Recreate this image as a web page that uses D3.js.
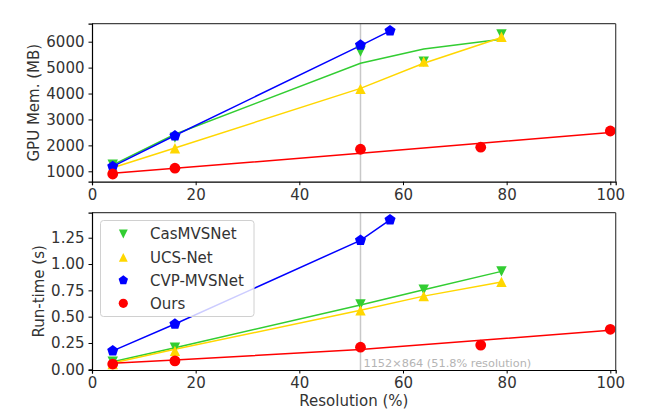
<!DOCTYPE html>
<html><head><meta charset="utf-8">
<script src="https://cdn.jsdelivr.net/npm/d3@7"></script>
<style>body{margin:0;background:#fff}svg{display:block;font-family:"DejaVu Sans",sans-serif}</style>
</head><body><svg id="c" width="647" height="412"></svg>
<script>
// ---- data ----
const seriesNames = ["CasMVSNet", "UCS-Net", "CVP-MVSNet", "Ours"];
const seriesColors = ["#32cd32", "#ffd700", "#0000ff", "#ff0000"];
const xCas = [4, 16, 51.8, 64, 79];
const xUcs = [4, 16, 51.8, 64, 79];
const xCvp = [4, 16, 51.8, 57.5];
const xOurs = [4, 16, 51.8, 75, 100];

const memCasPts = [1250, 2300, 5620, 5230, 6280];
const memCasLine = [1250, 2430, 5165, 5715, 6090];
const memUcsPts = [1130, 1890, 4180, 5230, 6190];
const memUcsLine = [1140, 1900, 4200, 5170, 6160];
const memCvpPts = [1180, 2370, 5870, 6420];
const memCvpLine = [1190, 2380, 5850, 6420];
const memOursPts = [896, 1120, 1850, 1930, 2555];
const memOursLine = [923, 1115, 1694, 2080, 2500];

const rtCasPts = [0.072, 0.205, 0.615, 0.755, 0.93];
const rtCasLine = [0.072, 0.205, 0.61, 0.755, 0.93];
const rtUcsPts = [0.05, 0.175, 0.56, 0.695, 0.83];
const rtUcsLine = [0.06, 0.19, 0.56, 0.695, 0.83];
const rtCvpPts = [0.175, 0.43, 1.225, 1.42];
const rtCvpLine = [0.175, 0.43, 1.225, 1.42];
const rtOursPts = [0.05, 0.08, 0.21, 0.23, 0.38];
const rtOursLine = [0.057, 0.088, 0.188, 0.275, 0.372];

const xTicks = [0, 20, 40, 60, 80, 100];
const memTicks = [1000, 2000, 3000, 4000, 5000, 6000];
const rtTicks = [0, 0.25, 0.5, 0.75, 1.0, 1.25];
const refX = 51.8;
const refLabel = "1152×864 (51.8% resolution)";

// ---- layout ----
const svg = d3.select("#c");
const L = 92, R = 615.7;
const x = d3.scaleLinear().domain([0, 101.04]).range([L, R]);
const yMem = d3.scaleLinear().domain([599, 6694]).range([181.7, 23.7]);
const yRt = d3.scaleLinear().domain([-0.0066, 1.4875]).range([370, 212.7]);

function markerPath(kind, r) {
  if (kind === "v") return `M0,${r}L${-r},${-r}L${r},${-r}Z`;
  if (kind === "^") return `M0,${-r}L${-r},${r}L${r},${r}Z`;
  if (kind === "p") {
    let p = [];
    for (let k = 0; k < 5; k++) { const a = -Math.PI/2 + k*2*Math.PI/5; p.push([r*Math.cos(a), r*Math.sin(a)]); }
    return "M" + p.map(d => d[0].toFixed(2)+","+d[1].toFixed(2)).join("L") + "Z";
  }
  return d3.symbol(d3.symbolCircle, Math.PI*r*r)();
}
const kinds = ["v", "^", "p", "o"];
const sizes = [5.2, 5.2, 5.8, 5.4];

function panel(y, ticks, fmt, label, data, labelX) {
  const top = y.range()[1], bot = y.range()[0];
  const g = svg.append("g");
  g.append("line").attr("x1", x(refX)).attr("x2", x(refX)).attr("y1", top).attr("y2", bot)
    .attr("stroke", "#c8c8c8").attr("stroke-width", 1.5);
  const line = d3.line().x(d => x(d[0])).y(d => y(d[1]));
  data.forEach((s, i) => {
    g.append("path").attr("d", line(s.xs.map((v, j) => [v, s.line[j]])))
      .attr("fill", "none").attr("stroke", seriesColors[i]).attr("stroke-width", 1.5);
  });
  data.forEach((s, i) => {
    g.selectAll(null).data(s.xs.map((v, j) => [v, s.pts[j]])).join("path")
      .attr("transform", d => `translate(${x(d[0])},${y(d[1])})`)
      .attr("d", markerPath(kinds[i], sizes[i])).attr("fill", seriesColors[i]);
  });
  g.append("line").attr("x1", L).attr("x2", R).attr("y1", top).attr("y2", top).attr("stroke", "#444").attr("stroke-width", 1.2);
  g.append("line").attr("x1", R).attr("x2", R).attr("y1", top).attr("y2", bot).attr("stroke", "#444").attr("stroke-width", 1.2);
  const ax = g.append("g").attr("transform", `translate(0,${bot})`)
    .call(d3.axisBottom(x).tickValues(xTicks).tickSize(3.5).tickPadding(4).tickFormat(d3.format("d")));
  const ay = g.append("g").attr("transform", `translate(${L},0)`)
    .call(d3.axisLeft(y).tickValues(ticks).tickSize(3.5).tickPadding(4).tickFormat(fmt));
  [ax, ay].forEach(a => {
    a.select(".domain").attr("stroke", "#000").attr("stroke-width", 1.2);
    a.selectAll(".tick line").attr("stroke", "#000").attr("stroke-width", 1);
    a.selectAll("text").attr("font-size", 15).attr("fill", "#333").attr("font-family", "DejaVu Sans");
  });
  svg.append("text").attr("transform", `translate(${labelX},${(top+bot)/2}) rotate(-90)`)
    .attr("text-anchor", "middle").attr("font-size", 15).attr("fill", "#333").text(label);
  return g;
}

panel(yMem, memTicks, d3.format("d"), "GPU Mem. (MB)", [
  {xs: xCas, pts: memCasPts, line: memCasLine},
  {xs: xUcs, pts: memUcsPts, line: memUcsLine},
  {xs: xCvp, pts: memCvpPts, line: memCvpLine},
  {xs: xOurs, pts: memOursPts, line: memOursLine}], 39);

const g2 = panel(yRt, rtTicks, d3.format(".2f"), "Run-time (s)", [
  {xs: xCas, pts: rtCasPts, line: rtCasLine},
  {xs: xUcs, pts: rtUcsPts, line: rtUcsLine},
  {xs: xCvp, pts: rtCvpPts, line: rtCvpLine},
  {xs: xOurs, pts: rtOursPts, line: rtOursLine}], 44);

g2.append("text").attr("x", x(refX) + 3).attr("y", 366.5).attr("font-size", 11.3)
  .attr("fill", "#b4b4b4").text(refLabel);

svg.append("text").attr("x", (L + R) / 2).attr("y", 406).attr("text-anchor", "middle")
  .attr("font-size", 15).attr("fill", "#333").text("Resolution (%)");

const lg = svg.append("g");
lg.append("rect").attr("x", 100.5).attr("y", 220.5).attr("width", 153.5).attr("height", 96)
  .attr("rx", 3).attr("fill", "#fff").attr("fill-opacity", 0.8).attr("stroke", "#d0d0d0");
const legY = [234, 257.3, 280.3, 303.3];
seriesNames.forEach((n, i) => {
  lg.append("path").attr("transform", `translate(123.3,${legY[i]})`)
    .attr("d", markerPath(kinds[i], sizes[i] * 0.85)).attr("fill", seriesColors[i]);
  lg.append("text").attr("x", 150).attr("y", legY[i]).attr("dy", "0.36em")
    .attr("font-size", 15).attr("fill", "#333").text(n);
});
</script></body></html>
